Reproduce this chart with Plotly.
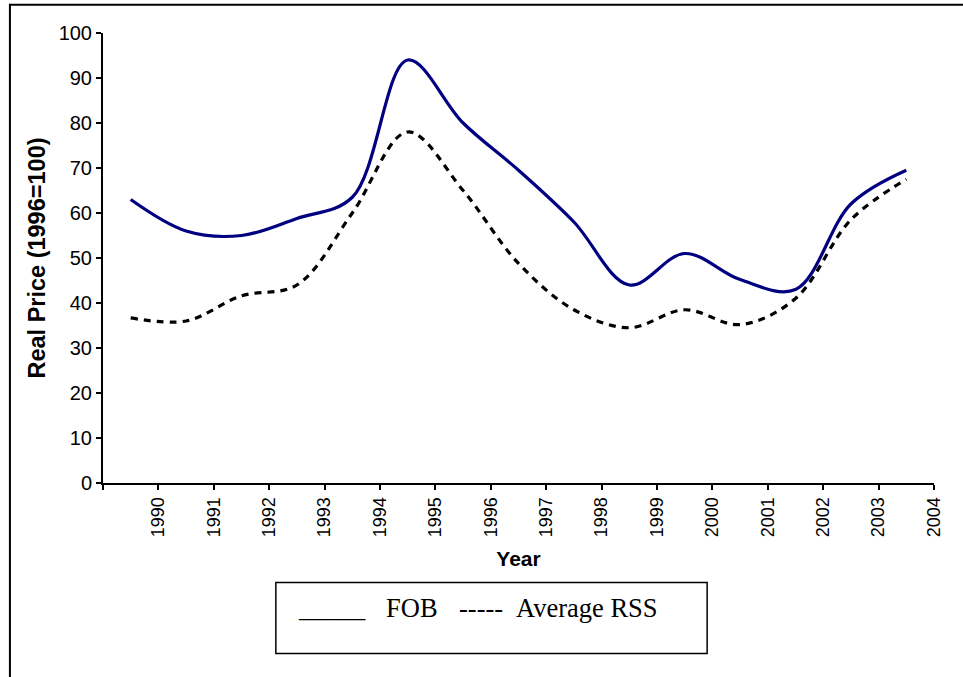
import plotly.graph_objects as go

# Values (plotted at mid-year positions)
year_pos = [1989.5, 1990.5, 1991.5, 1992.5, 1993.5, 1994.5, 1995.5, 1996.5,
            1997.5, 1998.5, 1999.5, 2000.5, 2001.5, 2002.5, 2003.5]
fob = [63.0, 56.0, 55.0, 58.8, 63.5, 94.0, 80.0, 69.5,
       58.0, 44.0, 51.0, 45.2, 43.0, 62.0, 69.5]
avg_rss = [36.7, 36.0, 41.6, 44.0, 60.0, 78.0, 65.0, 48.8,
           38.5, 34.5, 38.5, 35.2, 41.0, 58.5, 67.5]

tick_years = list(range(1989, 2005))
tick_labels = [""] + [str(y) for y in range(1990, 2005)]

SANS = "Liberation Sans, Arial, sans-serif"
SERIF = "Liberation Serif, Times New Roman, serif"

fig = go.Figure()

fig.add_trace(go.Scatter(
    x=year_pos, y=fob, mode="lines", name="FOB",
    line=dict(color="#000080", width=3.2, shape="spline", smoothing=1.0),
))
fig.add_trace(go.Scatter(
    x=year_pos, y=avg_rss, mode="lines", name="Average RSS",
    line=dict(color="black", width=3.2, dash="7px,6px", shape="spline", smoothing=1.0),
))

# outer frame (runs off the right and bottom of the page, as in the source)
fig.add_shape(type="rect", xref="paper", yref="paper",
              x0=-0.112, x1=1.06, y0=-0.47, y1=1.063,
              line=dict(color="black", width=2), layer="below")

# hand-made legend box
fig.add_shape(type="rect", xref="paper", yref="paper",
              x0=0.208, x1=0.727, y0=-0.379, y1=-0.221,
              line=dict(color="black", width=1.5))

legend_bits = [("_____", 296), ("FOB", 384), ("-----", 457), ("Average RSS", 514)]
for txt, px in legend_bits:
    fig.add_annotation(
        text=txt, xref="paper", yref="paper",
        x=(px - 103) / 831, y=-0.277, xanchor="left", yanchor="middle",
        showarrow=False, font=dict(family=SERIF, size=26.5, color="black"),
    )

fig.update_layout(
    width=963, height=677,
    margin=dict(l=103, r=29, t=33, b=194),
    paper_bgcolor="white", plot_bgcolor="white",
    showlegend=False,
    font=dict(family=SANS, color="black"),
    xaxis=dict(
        range=[1989, 2004], tickvals=tick_years, ticktext=tick_labels,
        tickangle=-90, ticks="outside", ticklen=5, tickwidth=1.5, tickcolor="black",
        showline=True, linecolor="black", linewidth=2, showgrid=False, zeroline=False,
        tickfont=dict(size=18),
        title=dict(text="<b>Year</b>", font=dict(size=21), standoff=15),
    ),
    yaxis=dict(
        range=[0, 100], dtick=10, ticks="outside", ticklen=5, tickwidth=1.5,
        tickcolor="black", showline=True, linecolor="black", linewidth=2,
        showgrid=False, zeroline=False, tickfont=dict(size=20),
        title=dict(text="<b>Real Price (1996=100)</b>", font=dict(size=23.5), standoff=6),
    ),
)

fig.write_html("out.html", config={"displayModeBar": False},
               post_script="document.body.style.margin='0';")
